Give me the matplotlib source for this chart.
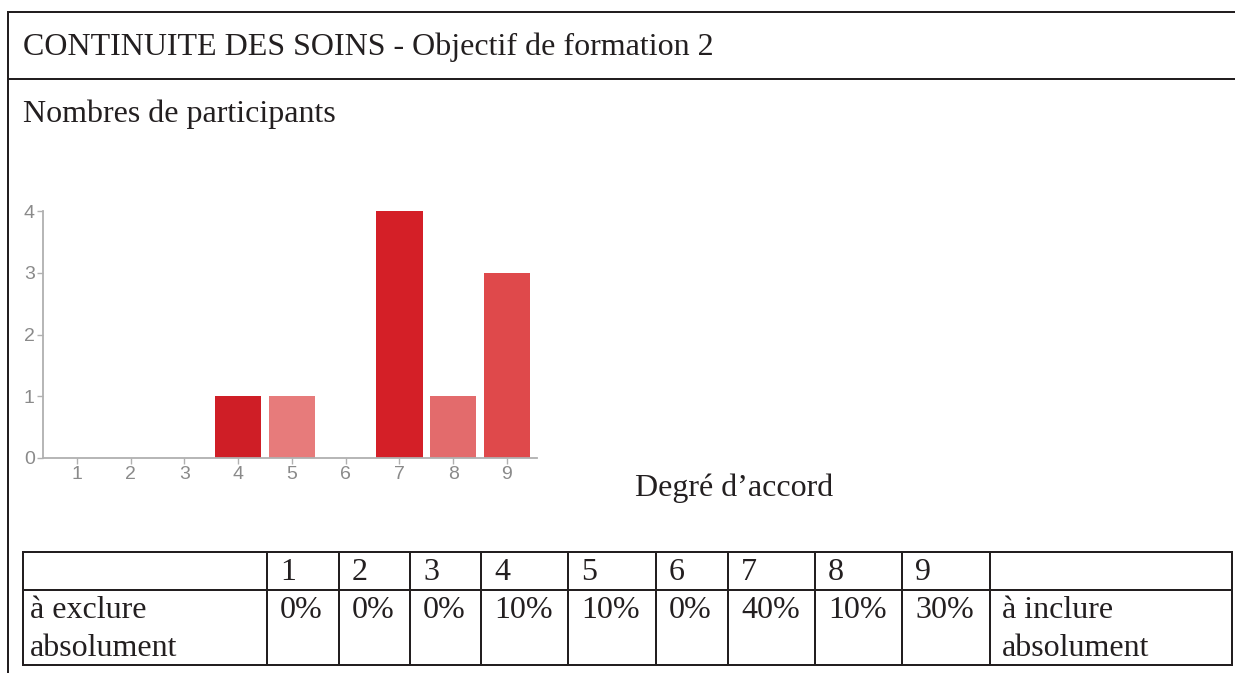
import matplotlib
matplotlib.use("Agg")
import matplotlib.pyplot as plt
from matplotlib.lines import Line2D

# ---- data ----
title = "CONTINUITE DES SOINS - Objectif de formation 2"
ylabel_txt = "Nombres de participants"
xlabel_txt = "Degré d\u2019accord"
categories = [1, 2, 3, 4, 5, 6, 7, 8, 9]
counts = [0, 0, 0, 1, 1, 0, 4, 1, 3]
bar_colors = ["#cf1e26", "#e77b7b", "#d41f27", "#cf1e26", "#e77b7b", "#d41f27",
              "#d41f27", "#e36b6c", "#df494b"]
pct_labels = ["0%", "0%", "0%", "10%", "10%", "0%", "40%", "10%", "30%"]
left_label = ["à exclure", "absolument"]
right_label = ["à inclure", "absolument"]

W, H = 1235, 673
fig = plt.figure(figsize=(W / 100, H / 100), dpi=100)

# background axes in pixel coordinates for frame, texts and table
bg = fig.add_axes([0, 0, 1, 1])
bg.set_xlim(0, W)
bg.set_ylim(H, 0)
bg.axis("off")

serif = ["Liberation Serif", "DejaVu Serif"]
ink = "#231f20"
fs = 23

def hline(y, x0, x1, lw=2.0):
    bg.add_line(Line2D([x0, x1], [y, y], color=ink, lw=lw * 0.72, solid_capstyle="projecting"))

def vline(x, y0, y1, lw=2.0):
    bg.add_line(Line2D([x, x], [y0, y1], color=ink, lw=lw * 0.72, solid_capstyle="projecting"))

# outer frame
hline(12, 8, W)
hline(79, 8, W)
vline(8, 12, H)

bg.text(23, 47, title, family=serif, fontsize=fs, color=ink, va="center", ha="left")
bg.text(23, 114, ylabel_txt, family=serif, fontsize=fs, color=ink, va="center", ha="left")
bg.text(635, 488, xlabel_txt, family=serif, fontsize=fs, color=ink, va="center", ha="left")

# table
col_x = [23, 267, 339, 410, 481, 568, 656, 728, 815, 902, 990, 1232]
row_y = [552, 590, 665]
for y in row_y:
    hline(y, col_x[0], col_x[-1])
for x in col_x:
    vline(x, row_y[0], row_y[-1])
for i, c in enumerate(categories):
    bg.text(col_x[i + 1] + 13, 573, str(c), family=serif, fontsize=fs, color=ink,
            va="center", ha="left")
    bg.text(col_x[i + 1] + 13, 611, pct_labels[i], family=serif, fontsize=fs, color=ink,
            va="center", ha="left")
bg.text(col_x[0] + 7, 611, left_label[0], family=serif, fontsize=fs, color=ink, va="center")
bg.text(col_x[0] + 7, 648, left_label[1], family=serif, fontsize=fs, color=ink, va="center")
bg.text(col_x[-2] + 12, 611, right_label[0], family=serif, fontsize=fs, color=ink, va="center")
bg.text(col_x[-2] + 12, 648, right_label[1], family=serif, fontsize=fs, color=ink, va="center")

# bar chart
ax_l, ax_r, ax_t, ax_b = 43, 537, 211, 458
ax = fig.add_axes([ax_l / W, (H - ax_b) / H, (ax_r - ax_l) / W, (ax_b - ax_t) / H])
ax.bar(categories, counts, width=0.86, color=bar_colors, edgecolor="none", zorder=2)
ax.set_xlim(0.367, 9.56)
ax.set_ylim(0, 4)
ax.set_xticks(categories)
ax.set_yticks([0, 1, 2, 3, 4])
for s in ["top", "right"]:
    ax.spines[s].set_visible(False)
for s in ["left", "bottom"]:
    ax.spines[s].set_color("#b0b0b0")
    ax.spines[s].set_linewidth(1.3)
ax.tick_params(axis="both", colors="#b0b0b0", labelcolor="#8a8a8a", length=4,
               width=1.0, labelsize=14, pad=2)
for lab in ax.get_xticklabels() + ax.get_yticklabels():
    lab.set_family(["Liberation Sans", "DejaVu Sans"])
ax.patch.set_alpha(0)

fig.savefig("out.png", dpi=100)
